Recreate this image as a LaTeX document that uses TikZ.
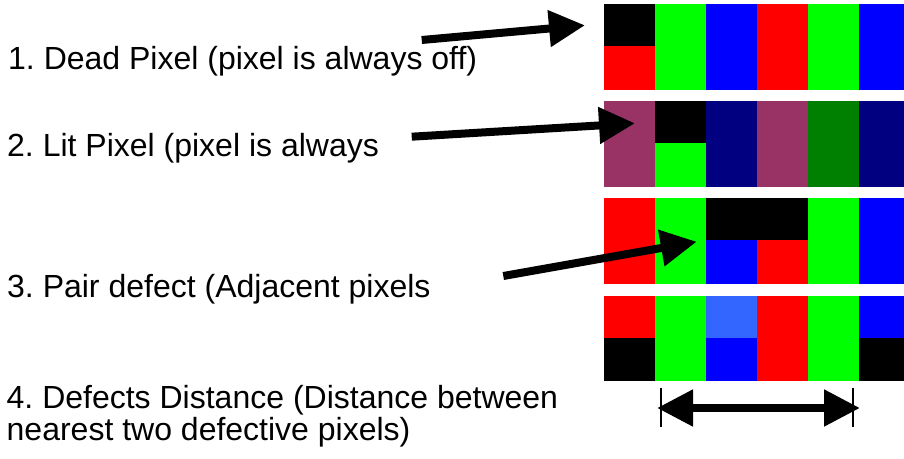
\documentclass[tikz,border=0pt]{standalone}
\usepackage{fontspec}
\setmainfont{Liberation Sans}
\usetikzlibrary{arrows.meta}
\frenchspacing
\definecolor{pgreen}{HTML}{00FF00}
\definecolor{pblue}{HTML}{0000FF}
\definecolor{pred}{HTML}{FF0000}
\definecolor{ppurple}{HTML}{993366}
\definecolor{pnavy}{HTML}{000080}
\definecolor{pdkgreen}{HTML}{008000}
\definecolor{plblue}{HTML}{3366FF}
\newcommand\pxcell[4]{%
  \fill[#3] ({604+51*#2},#1) rectangle ({655+51*#2},{#1+42});
  \fill[#4] ({604+51*#2},{#1+42}) rectangle ({655+51*#2},{#1+85.5});}
\tikzset{
  lbl/.style={inner sep=0pt, font=\fontsize{32}{32.5}\selectfont\frenchspacing, align=left},
  bigarrow/.style={line width=8pt, -{Triangle[length=36pt,width=35pt]}},
  dblarrow/.style={line width=8pt, {Triangle[length=36pt,width=35pt]}-{Triangle[length=36pt,width=35pt]}},
  tick/.style={line width=1.2pt}
}
\begin{document}
\begin{tikzpicture}[x=1pt,y=-1pt]
\useasboundingbox (0,0) rectangle (904,458);
\clip (0,0) rectangle (904,458);
% row 1
\pxcell{4}{0}{black}{pred}
\pxcell{4}{1}{pgreen}{pgreen}
\pxcell{4}{2}{pblue}{pblue}
\pxcell{4}{3}{pred}{pred}
\pxcell{4}{4}{pgreen}{pgreen}
\pxcell{4}{5}{pblue}{pblue}
% row 2
\pxcell{101}{0}{ppurple}{ppurple}
\pxcell{101}{1}{black}{pgreen}
\pxcell{101}{2}{pnavy}{pnavy}
\pxcell{101}{3}{ppurple}{ppurple}
\pxcell{101}{4}{pdkgreen}{pdkgreen}
\pxcell{101}{5}{pnavy}{pnavy}
% row 3
\pxcell{198}{0}{pred}{pred}
\pxcell{198}{1}{pgreen}{pgreen}
\pxcell{198}{2}{black}{pblue}
\pxcell{198}{3}{black}{pred}
\pxcell{198}{4}{pgreen}{pgreen}
\pxcell{198}{5}{pblue}{pblue}
% row 4
\pxcell{295.5}{0}{pred}{black}
\pxcell{295.5}{1}{pgreen}{pgreen}
\pxcell{295.5}{2}{plblue}{pblue}
\pxcell{295.5}{3}{pred}{pred}
\pxcell{295.5}{4}{pgreen}{pgreen}
\pxcell{295.5}{5}{pblue}{black}
% labels
\node[lbl, anchor=base west] (t1) at (8,69.3) {1. Dead Pixel (pixel is always off)};
\node[lbl, anchor=base west] (t2) at (7,156.7) {2. Lit Pixel (pixel is always};
\node[lbl, anchor=base west] (t3) at (7,297.7) {3. Pair defect (Adjacent pixels};
\node[lbl, anchor=base west] (t4) at (6.5,440.7) {4. Defects Distance (Distance between\\nearest two defective pixels)};
% arrow endpoints
\coordinate (a1s) at (421.7,40);
\coordinate (a1e) at (585,25.3);
\coordinate (a2s) at (411.7,136.7);
\coordinate (a2e) at (635,123.3);
\coordinate (a3s) at (503.3,276);
\coordinate (a3e) at (696.7,241.7);
\coordinate (dl) at (657,408);
\coordinate (dr) at (860,408);
\coordinate (k1t) at (661,388);
\coordinate (k1b) at (661,427);
\coordinate (k2t) at (853,388);
\coordinate (k2b) at (853,427);
\draw[bigarrow] (a1s) -- (a1e);
\draw[bigarrow] (a2s) -- (a2e);
\draw[bigarrow] (a3s) -- (a3e);
\draw[tick] (k1t) -- (k1b);
\draw[tick] (k2t) -- (k2b);
\draw[dblarrow] (dl) -- (dr);
\end{tikzpicture}
\end{document}
